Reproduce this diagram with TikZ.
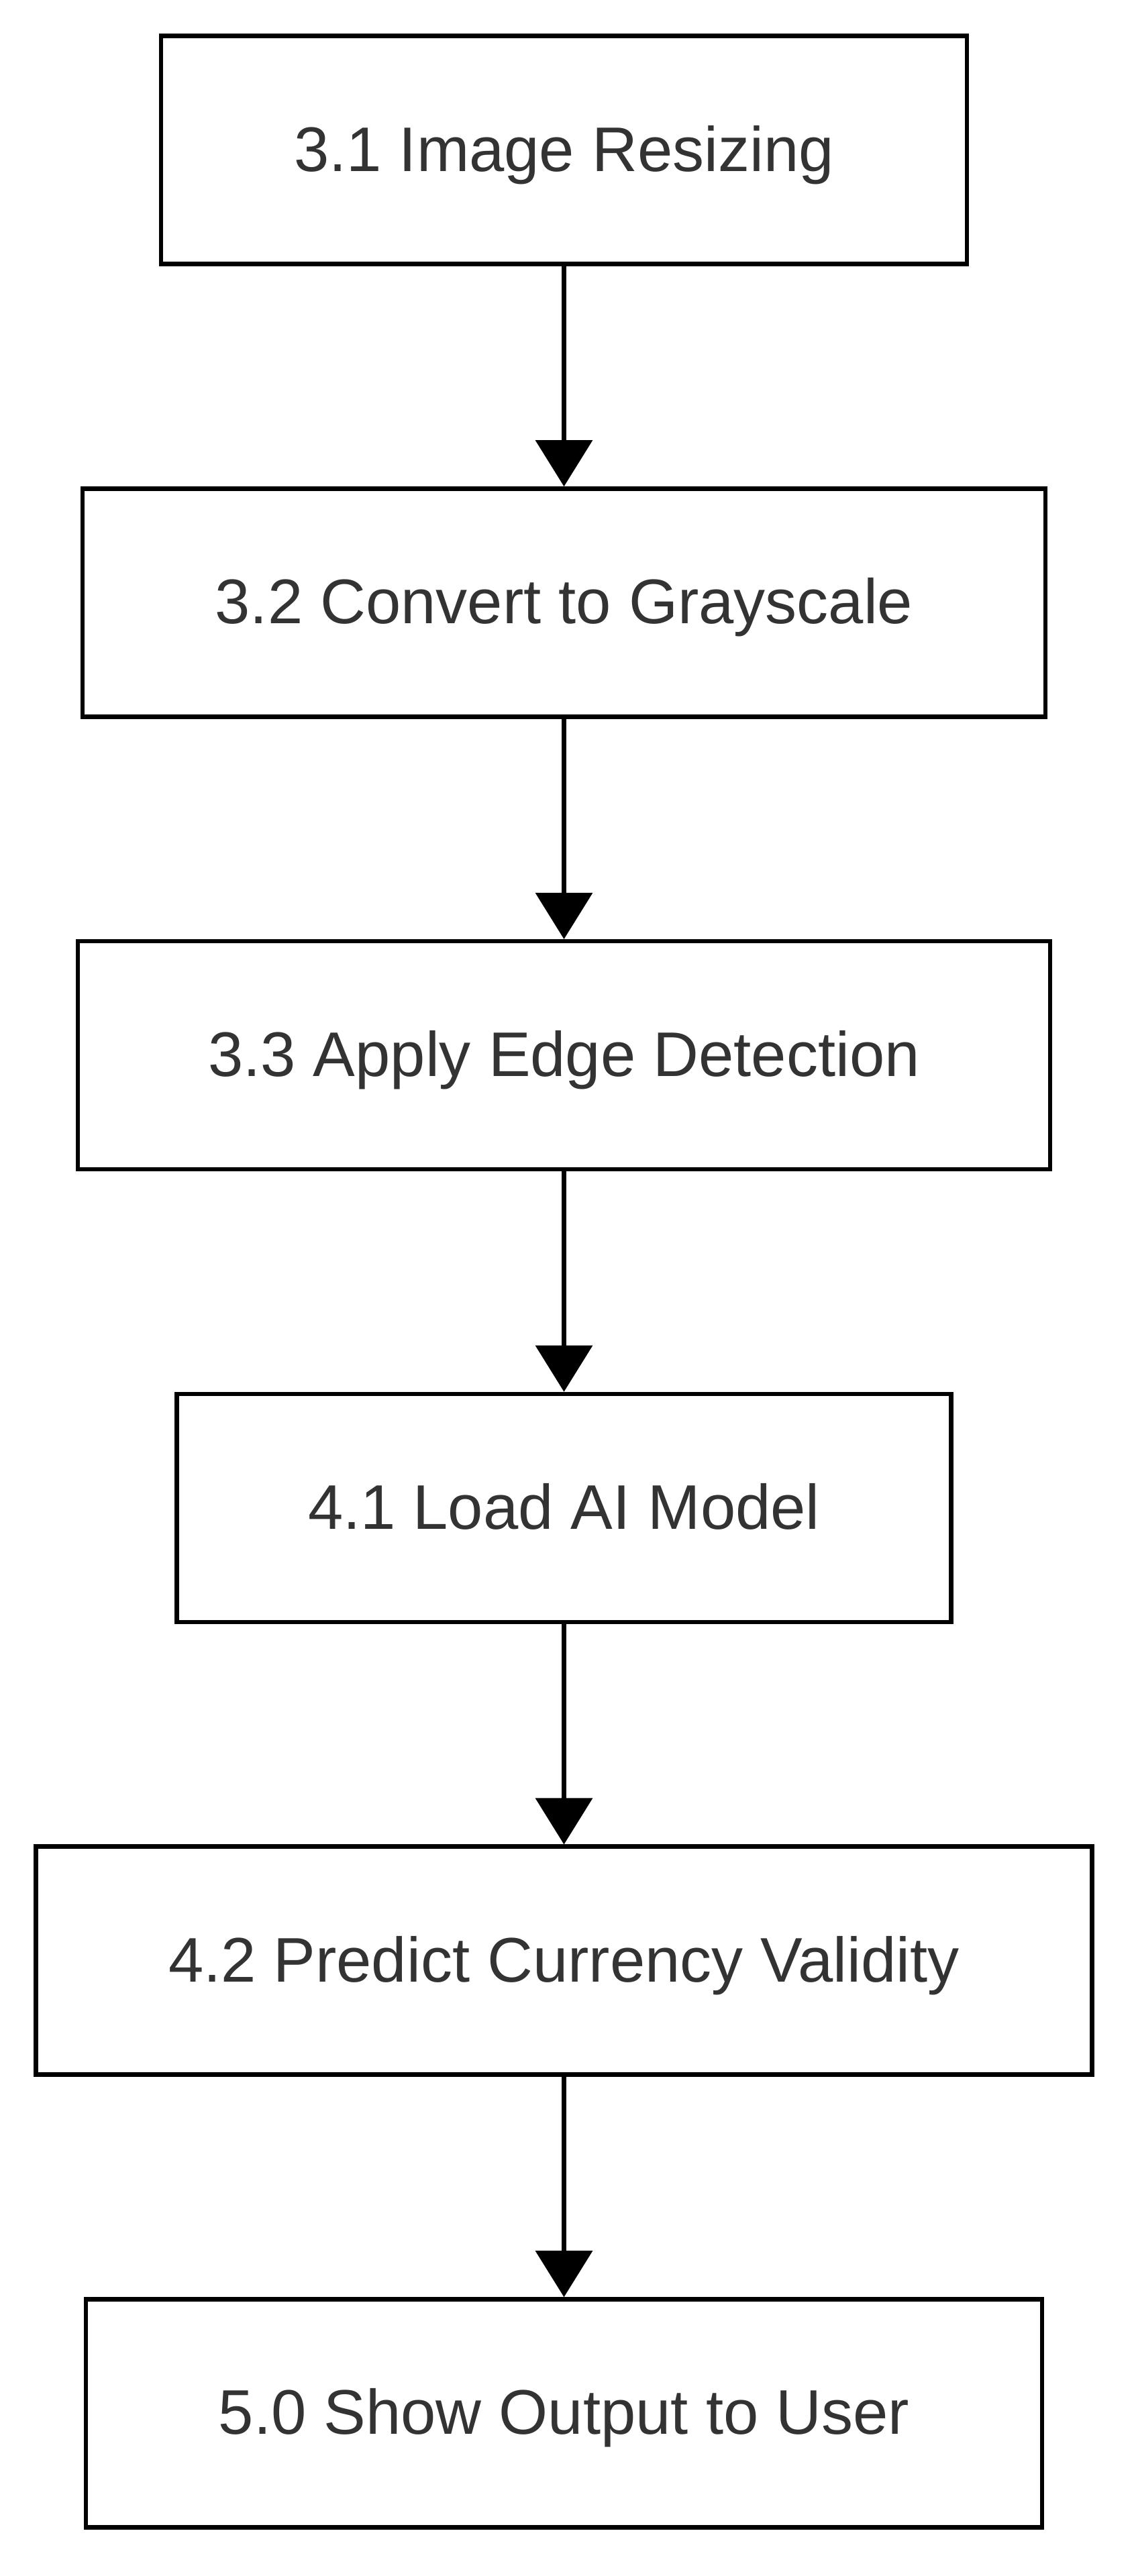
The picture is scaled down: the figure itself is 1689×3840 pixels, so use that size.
\documentclass[tikz,border=0pt]{standalone}
\usepackage{fontspec}
\setmainfont{Liberation Sans}
\usetikzlibrary{arrows.meta}
\definecolor{txt}{HTML}{333333}
\tikzset{
  stepbox/.style={draw=black, line width=6.5pt, rectangle, inner sep=0pt,
    minimum height=340pt, text=txt, text height=67pt, text depth=4pt,
    font=\fontsize{94}{113}\selectfont},
  conn/.style={draw=black, line width=6.6pt,
    -{Triangle[width=84pt,length=69pt]}}
}
\begin{document}
\begin{tikzpicture}[x=1pt,y=-1pt]
\useasboundingbox (0,0) rectangle (1689,3840);
\node[stepbox, minimum width=1201pt] (b1) at (840.5,223.7) {3.1 Image Resizing};
\node[stepbox, minimum width=1435pt] (b2) at (840.5,898.45) {3.2 Convert to Grayscale};
\node[stepbox, minimum width=1449pt] (b3) at (840.5,1573.2) {3.3 Apply Edge Detection};
\node[stepbox, minimum width=1154pt] (b4) at (840.5,2247.95) {4.1 Load AI Model};
\node[stepbox, minimum width=1574pt] (b5) at (840.5,2922.7) {4.2 Predict Currency Validity};
\node[stepbox, minimum width=1425pt] (b6) at (840.5,3597.45) {5.0 Show Output to User};
\draw[conn] (b1.south) -- (b2.north);
\draw[conn] (b2.south) -- (b3.north);
\draw[conn] (b3.south) -- (b4.north);
\draw[conn] (b4.south) -- (b5.north);
\draw[conn] (b5.south) -- (b6.north);
\end{tikzpicture}
\end{document}
